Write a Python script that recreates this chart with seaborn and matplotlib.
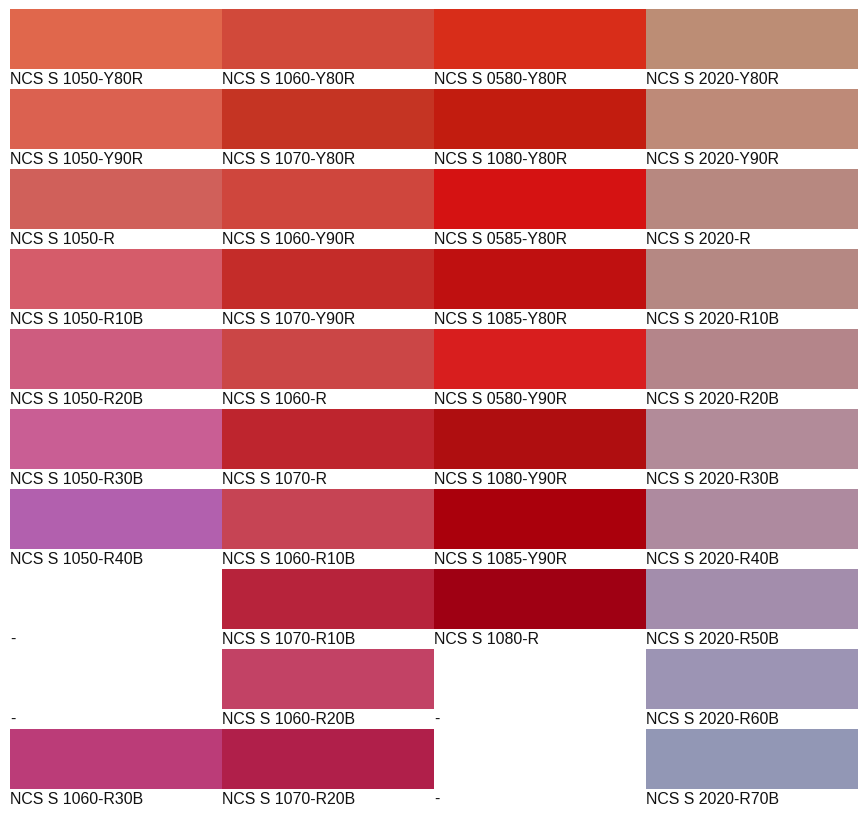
import numpy as np
import matplotlib
matplotlib.use("Agg")
import matplotlib.pyplot as plt
import seaborn as sns

# one list per column of the swatch grid (None = empty cell, shown as "-")
col1_names = ["NCS S 1050-Y80R", "NCS S 1050-Y90R", "NCS S 1050-R", "NCS S 1050-R10B",
              "NCS S 1050-R20B", "NCS S 1050-R30B", "NCS S 1050-R40B", None, None,
              "NCS S 1060-R30B"]
col1_colors = ["#E0674C", "#DB6150", "#D0605A", "#D55C6A", "#CE5C7F", "#C95E94",
               "#B260AE", None, None, "#BB3C78"]

col2_names = ["NCS S 1060-Y80R", "NCS S 1070-Y80R", "NCS S 1060-Y90R", "NCS S 1070-Y90R",
              "NCS S 1060-R", "NCS S 1070-R", "NCS S 1060-R10B", "NCS S 1070-R10B",
              "NCS S 1060-R20B", "NCS S 1070-R20B"]
col2_colors = ["#D1493A", "#C53423", "#CF463D", "#C42C29", "#CB4646", "#BE252E",
               "#C64454", "#B7233B", "#C24265", "#B01F4A"]

col3_names = ["NCS S 0580-Y80R", "NCS S 1080-Y80R", "NCS S 0585-Y80R", "NCS S 1085-Y80R",
              "NCS S 0580-Y90R", "NCS S 1080-Y90R", "NCS S 1085-Y90R", "NCS S 1080-R",
              None, None]
col3_colors = ["#D82D19", "#C21C0F", "#D51212", "#BF1010", "#D81E1E", "#AF0E10",
               "#AA000C", "#9F0013", None, None]

col4_names = ["NCS S 2020-Y80R", "NCS S 2020-Y90R", "NCS S 2020-R", "NCS S 2020-R10B",
              "NCS S 2020-R20B", "NCS S 2020-R30B", "NCS S 2020-R40B", "NCS S 2020-R50B",
              "NCS S 2020-R60B", "NCS S 2020-R70B"]
col4_colors = ["#BC8D75", "#BE8A78", "#B78880", "#B58883", "#B4858A", "#B28B99",
               "#AE8A9F", "#A38DAC", "#9C94B4", "#9297B5"]

names = [col1_names, col2_names, col3_names, col4_names]
colors = [col1_colors, col2_colors, col3_colors, col4_colors]

sns.set_theme(style="white")
plt.rcParams['font.family'] = ['Liberation Sans', 'DejaVu Sans']

fig = plt.figure(figsize=(8.67, 8.13), dpi=100)
ax = fig.add_axes([10 / 867, 4 / 813, 848 / 867, 800 / 813])

for c in range(4):
    for r in range(10):
        col = colors[c][r]
        if col is not None:
            ax.bar(c, 0.75, bottom=r, width=1, align='edge', color=col, linewidth=0)
        label = names[c][r] if names[c][r] is not None else "-"
        ax.text(c + 0.001, r + 0.9375, label, va='baseline', ha='left',
                fontsize=11.4, color='#111111')

ax.set_xlim(0, 4)
ax.set_ylim(10, 0)
ax.axis('off')

fig.savefig("out.png", dpi=100)
